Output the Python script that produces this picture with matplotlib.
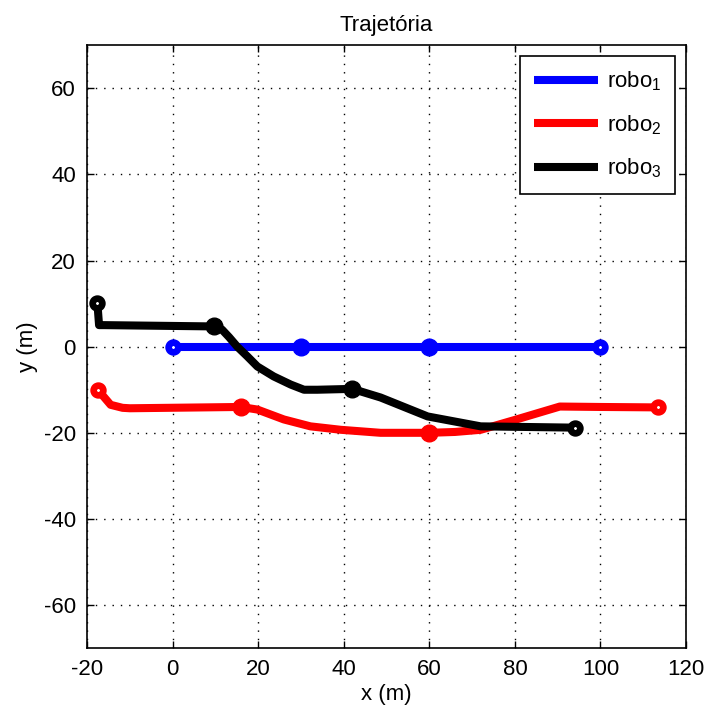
import numpy as np
import matplotlib
matplotlib.use('Agg')
import matplotlib.pyplot as plt

plt.rcParams['font.family'] = ['Liberation Sans', 'DejaVu Sans']
plt.rcParams['mathtext.fontset'] = 'custom'
plt.rcParams['mathtext.rm'] = 'Liberation Sans'
plt.rcParams['mathtext.it'] = 'Liberation Sans'
plt.rcParams['axes.unicode_minus'] = False
plt.rcParams['font.size'] = 16

# robo 1
x1 = [0, 30, 60, 100]
y1 = [0, 0, 0, 0]
m1 = [1, 2]  # filled markers (indices)

# robo 2
x2 = [-17.5, -14.5, -11.7, -10, 16, 19.8, 26, 32.2, 39.3, 48.6, 60, 66, 72, 80, 90.5, 100, 113.5]
y2 = [-10, -13.5, -14.2, -14.3, -14.0, -14.6, -16.9, -18.5, -19.3, -20, -20, -19.8, -19.3, -17, -13.9, -14, -14.1]
m2 = [4, 10]

# robo 3
x3 = [-17.6, -17.2, -16, 9.6, 11.5, 13.2, 15.1, 17.4, 19.8, 23.6, 27.6, 30.7, 33.8, 42, 48.6, 59.6, 72, 94]
y3 = [10.2, 5, 5, 4.7, 4.0, 2.2, 0, -2.2, -4.6, -6.9, -8.8, -10, -10, -9.8, -11.8, -16.2, -18.5, -18.8]
m3 = [3, 13]

robots = [('robo$_1$', x1, y1, m1, '#0000ff'),
          ('robo$_2$', x2, y2, m2, '#ff0000'),
          ('robo$_3$', x3, y3, m3, '#000000')]

fig = plt.figure(figsize=(7.08, 7.17), dpi=100)
ax = fig.add_axes([0.123, 0.096, 0.846, 0.841])

for name, x, y, m, c in robots:
    ax.plot(x, y, color=c, lw=5.8, label=name, solid_capstyle='butt', solid_joinstyle='round')
    ax.plot([x[0], x[-1]], [y[0], y[-1]], 'o', ms=7, mfc='white', mec=c, mew=4.8)
    ax.plot([x[i] for i in m], [y[i] for i in m], 'o', ms=12, mfc=c, mec=c)

ax.set_xlim(-20, 120)
ax.set_ylim(-70, 70)
ax.set_xticks(np.arange(-20, 121, 20))
ax.set_yticks(np.arange(-60, 61, 20))
ax.grid(True, color='black', linestyle=(0, (1, 5)), linewidth=1)
ax.tick_params(direction='in', length=5, width=1, top=True, right=True, pad=8)
for s in ax.spines.values():
    s.set_linewidth(1.2)

ax.set_title('Trajetória', fontsize=16, pad=10)
ax.set_xlabel('x (m)', labelpad=3)
ax.set_ylabel('y (m)', labelpad=4)

leg = ax.legend(loc='upper right', fancybox=False, framealpha=1, edgecolor='black',
                handlelength=2.9, handletextpad=0.4, labelspacing=0.9, borderpad=0.6,
                fontsize=16)
leg.get_frame().set_linewidth(1.2)

fig.savefig('out.png', dpi=100)
